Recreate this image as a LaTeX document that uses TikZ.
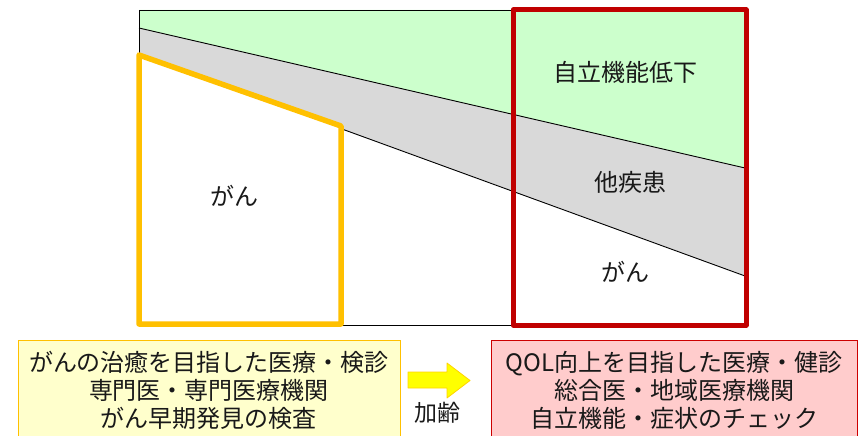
\documentclass[tikz,border=0pt]{standalone}
\usepackage{fontspec}
\setmainfont{Noto Sans CJK JP}
\definecolor{gr}{HTML}{CCFFCC}
\definecolor{gy}{HTML}{D9D9D9}
\definecolor{og}{HTML}{FFC000}
\definecolor{dr}{HTML}{C00000}
\definecolor{ly}{HTML}{FFFFCC}
\definecolor{pk}{HTML}{FFCCCC}
\definecolor{ye}{HTML}{FFFF00}
\tikzset{
  lbl/.style={font=\fontsize{24}{28}\selectfont, inner sep=0pt, text=black!90},
  boxtxt/.style={font=\fontsize{24}{28}\selectfont, align=center, inner sep=0pt, text=black!90},
  thin line/.style={draw=black, line width=0.9pt},
}
\begin{document}
\begin{tikzpicture}[x=1pt,y=-1pt]
\useasboundingbox (0,0) rectangle (863,436);
% regions
\fill[gr] (139,10) -- (745,10) -- (745,168) -- (139,28) -- cycle;
\fill[gy] (139,28) -- (745,168) -- (745,276) -- (139,55) -- cycle;
\coordinate (tl) at (139,10);
\coordinate (tr) at (513,10);
\coordinate (l1a) at (139,28);
\coordinate (l1b) at (745,168);
\coordinate (l2a) at (139,55);
\coordinate (l2b) at (745,276);
\coordinate (bl) at (341,325);
\coordinate (br) at (513,325);
\draw[thin line] (l2a) -- (tl) -- (tr);
\draw[thin line] (bl) -- (br);
\draw[thin line] (l1a) -- (l1b);
\draw[thin line] (l2a) -- (l2b);
% orange box
\draw[og, line width=5.5pt, line join=round, fill=white] (139,55) -- (341,126) -- (341,324) -- (139,324) -- cycle;
% red box
\draw[dr, line width=5pt, line join=round] (513,10) rectangle (746,325);
% labels
\node[lbl] (g1) at (234,196) {がん};
\node[lbl] (jr) at (625,72) {自立機能低下};
\node[lbl] (ts) at (630,182) {他疾患};
\node[lbl] (g2) at (625,272) {がん};
% bottom boxes
\draw[og, line width=1pt, fill=ly] (18,340) rectangle (400,445);
\draw[dr!80!red, line width=1pt, fill=pk] (491,340) rectangle (857,445);
\node[boxtxt] (lt) at (209,390) {がんの治癒を目指した医療・検診\\専門医・専門医療機関\\がん早期発見の検査};
\node[boxtxt] (rt) at (674,390) {QOL向上を目指した医療・健診\\総合医・地域医療機関\\自立機能・症状のチェック};
% arrow
\draw[og!70!ye, line width=0.8pt, fill=ye, line join=round] (408,372) -- (447,372) -- (447,363) -- (470,380.5) -- (447,398) -- (447,388) -- (408,388) -- cycle;
\node[font=\fontsize{23}{26}\selectfont, inner sep=0pt, text=black!90] (kr) at (437,413) {加齢};
\end{tikzpicture}
\end{document}
